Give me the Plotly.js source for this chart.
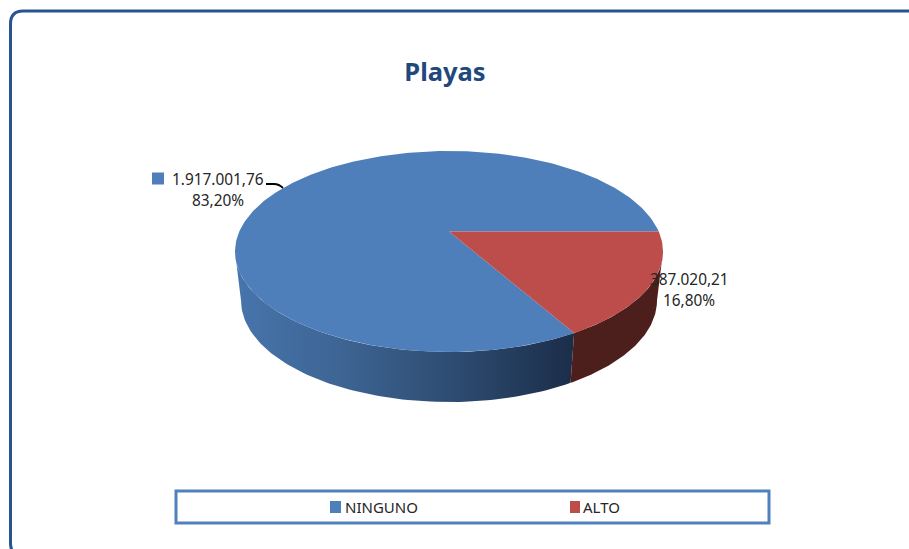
<!DOCTYPE html>
<html>
<head>
<meta charset="utf-8">
<script src="https://cdn.plot.ly/plotly-3.0.1.min.js"></script>
<style>html,body{margin:0;padding:0;background:#fff;overflow:hidden}</style>
</head>
<body>
<div id="chart" style="width:909px;height:549px"></div>
<script>
// ---- data ----
const categories = ['NINGUNO', 'ALTO'];
const values = [1917001.76, 387020.21];
const valueLabels = ['1.917.001,76', '387.020,21'];
const percentLabels = ['83,20%', '16,80%'];

// ---- styles ----
const topColors = ['#4e7fbb', '#bc4d4a'];
const chartTitle = 'Playas';
const FONT = '"Noto Sans", sans-serif';

// ---- 3D disc geometry (axis units equal pixels) ----
const TOP = {cx: 449, cy: 251.5, rx: 214, ry: 100.5};
const BOT = {cx: 449, cy: 300.5, rx: 208, ry: 101.5};
const TILT = -0.2; // where the disc centre lands inside the top ellipse

const total = values.reduce((a, b) => a + b, 0);
const boundary = values[1] / total * 2 * Math.PI; // the ALTO slice starts at angle 0 and runs clockwise

// perspective projection of a unit-circle point into the top ellipse
function project(th) {
  const x = Math.cos(th), y = Math.sin(th);
  const d = 1 + TILT * y;
  return [x * Math.sqrt(1 - TILT * TILT) / d, (y + TILT) / d];
}
const toPx = (p) => [TOP.cx + TOP.rx * p[0], TOP.cy + TOP.ry * p[1]];
const apex = toPx([0, TILT]);

function slice(a0, a1) {
  const xs = [apex[0]], ys = [apex[1]];
  const n = Math.max(8, Math.round((a1 - a0) * 60));
  for (let i = 0; i <= n; i++) {
    const q = toPx(project(a0 + (a1 - a0) * i / n));
    xs.push(q[0]); ys.push(q[1]);
  }
  xs.push(apex[0]); ys.push(apex[1]);
  return {xs, ys};
}
function wall(f0, f1) {
  const xs = [], ys = [];
  const n = 80;
  for (let i = 0; i <= n; i++) {
    const f = f0 + (f1 - f0) * i / n;
    xs.push(TOP.cx + TOP.rx * Math.cos(f)); ys.push(TOP.cy + TOP.ry * Math.sin(f));
  }
  for (let i = n; i >= 0; i--) {
    const f = f0 + (f1 - f0) * i / n;
    xs.push(BOT.cx + BOT.rx * Math.cos(f)); ys.push(BOT.cy + BOT.ry * Math.sin(f));
  }
  xs.push(xs[0]); ys.push(ys[0]);
  return {xs, ys};
}
const bp = project(boundary);
const phi = Math.atan2(bp[1], bp[0]);
const wallBlue = wall(phi, Math.PI);
const wallRed = wall(0, phi);
const topAlto = slice(0, boundary);
const topNinguno = slice(boundary, 2 * Math.PI);

const base = {type: 'scatter', mode: 'lines', fill: 'toself', hoverinfo: 'skip', showlegend: false};
const traces = [
  Object.assign({}, base, {name: 'NINGUNO lado', x: wallBlue.xs, y: wallBlue.ys, line: {width: 0, color: '#2c4568'},
    fillgradient: {type: 'horizontal', start: 238, stop: 575,
      colorscale: [[0, '#4674ab'], [0.3, '#3e6594'], [0.65, '#2d4b70'], [1, '#1b2d49']]}}),
  Object.assign({}, base, {name: 'ALTO lado', x: wallRed.xs, y: wallRed.ys, line: {width: 0, color: '#4c1f1c'}, fillcolor: '#4c1f1c'}),
  Object.assign({}, base, {name: categories[0], x: topNinguno.xs, y: topNinguno.ys, line: {width: 0, color: topColors[0]}, fillcolor: topColors[0]}),
  Object.assign({}, base, {name: categories[1], x: topAlto.xs, y: topAlto.ys, line: {width: 0, color: topColors[1]}, fillcolor: topColors[1]})
];

const framePath = 'M 10.5 24 Q 10.5 11 23 11 L 925 11 L 925 556 L 23 556 Q 10.5 556 10.5 543 Z';
const shapes = [
  {type: 'path', path: framePath, xref: 'x', yref: 'y', line: {color: '#26558f', width: 3}, layer: 'below'},
  {type: 'rect', xref: 'x', yref: 'y', x0: 176, x1: 769, y0: 491, y1: 523, line: {color: '#4f81bd', width: 3}, fillcolor: '#fff', layer: 'below'},
  {type: 'rect', xref: 'x', yref: 'y', x0: 152, x1: 164, y0: 172.5, y1: 184.5, line: {width: 0}, fillcolor: topColors[0], layer: 'above'},
  {type: 'rect', xref: 'x', yref: 'y', x0: 330, x1: 341, y0: 501, y1: 513, line: {width: 0}, fillcolor: topColors[0], layer: 'above'},
  {type: 'rect', xref: 'x', yref: 'y', x0: 570, x1: 580, y0: 501, y1: 513, line: {width: 0}, fillcolor: topColors[1], layer: 'above'},
  {type: 'path', xref: 'x', yref: 'y', path: 'M 266 184 L 274 184 Q 279 184 283 188', line: {color: '#000', width: 1.8}, layer: 'above'}
];

const txt = (text, x, y, size, anchor) => ({
  text, x, y, xref: 'x', yref: 'y', xanchor: anchor || 'center', yanchor: 'middle', showarrow: false,
  align: 'center', font: {family: FONT, size: size, color: '#262626'}
});
const annotations = [
  txt(valueLabels[0], 218, 179, 15.4),
  txt(percentLabels[0], 218, 200, 15.4),
  txt(valueLabels[1], 689, 279, 15.4),
  txt(percentLabels[1], 689, 300, 15.4),
  txt(categories[0], 342.5, 507, 15, 'left'),
  txt(categories[1], 581, 507, 15, 'left')
];

const layout = {
  width: 909, height: 549,
  margin: {l: 0, r: 0, t: 0, b: 0},
  paper_bgcolor: '#fff', plot_bgcolor: 'rgba(0,0,0,0)',
  showlegend: false,
  title: {text: chartTitle, x: 445 / 909, xanchor: 'center', xref: 'paper', y: 1 - 72 / 549, yanchor: 'middle', yref: 'container',
    font: {family: FONT, size: 25.5, color: '#1f497d', weight: 700}},
  xaxis: {range: [0, 909], visible: false, fixedrange: true},
  yaxis: {range: [549, 0], visible: false, fixedrange: true},
  shapes, annotations
};
Plotly.newPlot('chart', traces, layout, {displayModeBar: false, staticPlot: true});
</script>
</body>
</html>
